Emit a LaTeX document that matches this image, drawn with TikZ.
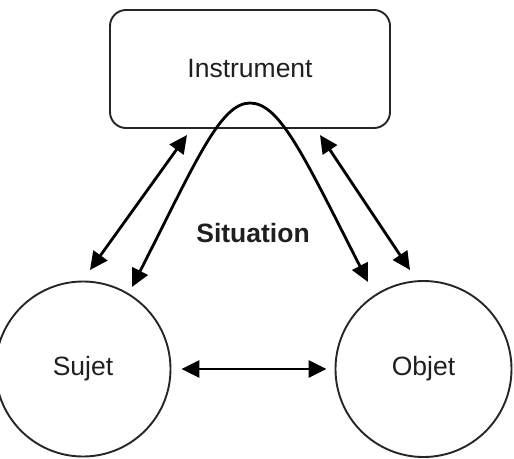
\documentclass[tikz,border=0pt]{standalone}
\usepackage{fontspec}
\setmainfont{Liberation Sans}
\usetikzlibrary{arrows.meta}
\begin{document}
\begin{tikzpicture}[x=1pt,y=-1pt,
  lbl/.style={font=\fontsize{26.5}{30}\selectfont, text=black!88},
  conn/.style={line width=2.8pt, {Triangle[length=18pt,width=17pt]}-{Triangle[length=18pt,width=17pt]}},
  shapeline/.style={line width=1.9pt, draw=black!85}]
\useasboundingbox (0,0) rectangle (514,458);
\node[shapeline, rectangle, rounded corners=16pt, minimum width=280pt, minimum height=118pt, lbl] (instr) at (250,69) {Instrument};
\node[shapeline, circle, minimum size=175pt, inner sep=0pt, lbl] (sujet) at (83,369) {Sujet};
\node[shapeline, circle, minimum size=176pt, inner sep=0pt, lbl] (objet) at (423.5,369) {Objet};
\node[lbl, font=\fontsize{26.5}{30}\selectfont\bfseries] (sit) at (253,233) {Situation};
\coordinate (l1) at (90,270);
\coordinate (l2) at (187,135);
\coordinate (r1) at (320,135);
\coordinate (r2) at (410,270);
\coordinate (cl) at (132,287);
\coordinate (cp) at (250,103);
\coordinate (cr) at (368,282);
\draw[conn] (l1) -- (l2);
\draw[conn] (r1) -- (r2);
\draw[conn, shorten <=10pt, shorten >=8pt] (sujet) -- (objet);
\draw[conn]
  (cl) .. controls (195.6,162.3) and (220,103) .. (cp)
       .. controls (280,103) and (304.4,157.3) .. (cr);
\end{tikzpicture}
\end{document}
